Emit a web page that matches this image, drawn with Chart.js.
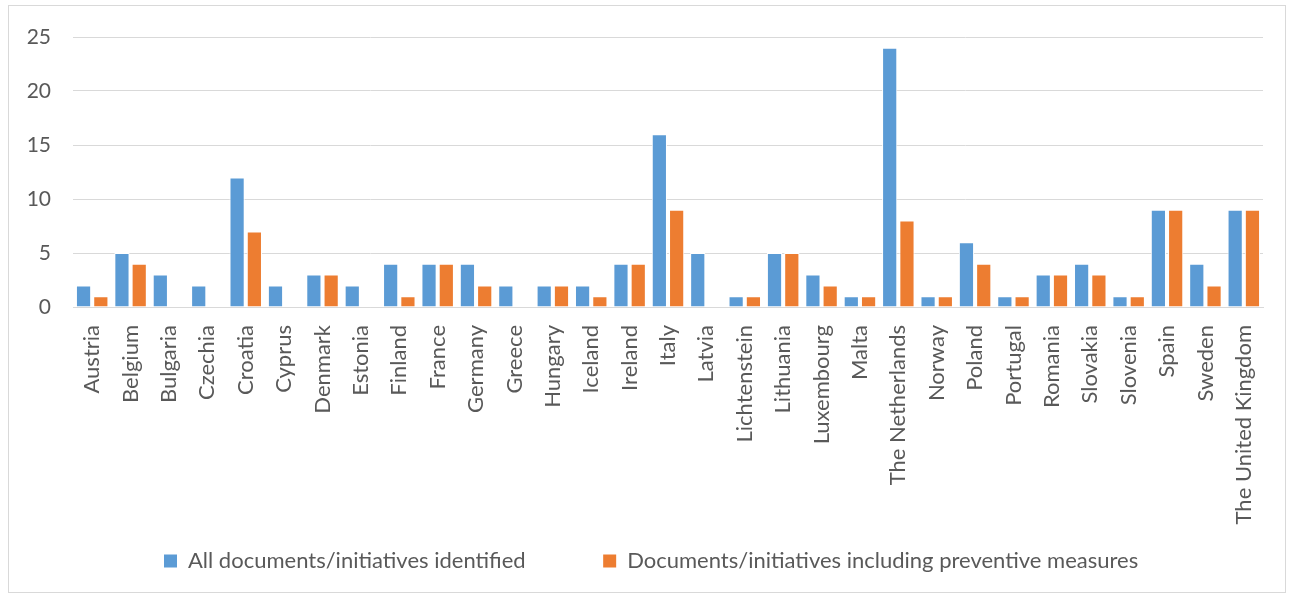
<!DOCTYPE html>
<html>
<head>
<meta charset="utf-8">
<script src="https://cdn.jsdelivr.net/npm/chart.js@4/dist/chart.umd.min.js"></script>
<style>
  body { margin: 0; background: #fff; }
  #frame { position: absolute; left: 8px; top: 5px; width: 1276px; height: 586px; border: 1px solid #d9d9d9; }
  #wrap { position: absolute; left: 0; top: 0; width: 1290px; height: 595px; }
</style>
</head>
<body>
<div id="frame"></div>
<div id="wrap"><canvas id="myChart"></canvas></div>
<script>
// countries along the x axis
var countries = ["Austria", "Belgium", "Bulgaria", "Czechia", "Croatia", "Cyprus", "Denmark", "Estonia",
  "Finland", "France", "Germany", "Greece", "Hungary", "Iceland", "Ireland", "Italy", "Latvia",
  "Lichtenstein", "Lithuania", "Luxembourg", "Malta", "The Netherlands", "Norway", "Poland",
  "Portugal", "Romania", "Slovakia", "Slovenia", "Spain", "Sweden", "The United Kingdom"];

// series values
var allDocs = [2, 5, 3, 2, 12, 2, 3, 2, 4, 4, 4, 2, 2, 2, 4, 16, 5, 1, 5, 3, 1, 24, 1, 6, 1, 3, 4, 1, 9, 4, 9];
var preventive = [1, 4, 0, 0, 7, 0, 3, 0, 1, 4, 2, 0, 2, 1, 4, 9, 0, 1, 5, 2, 1, 8, 1, 4, 1, 3, 3, 1, 9, 2, 9];

var seriesNames = ["All documents/initiatives identified", "Documents/initiatives including preventive measures"];
var yTicks = [0, 5, 10, 15, 20, 25];

var ctx = document.getElementById('myChart');
var chart = new Chart(ctx, {
  type: 'bar',
  data: {
    labels: countries,
    datasets: [{
      label: seriesNames[0],
      backgroundColor: '#5B9BD5',
      borderColor: '#ffffff',
      borderWidth: 1,
      data: allDocs
    }, {
      label: seriesNames[1],
      backgroundColor: '#ED7D31',
      borderColor: '#ffffff',
      borderWidth: 1,
      data: preventive
    }]
  },
  options: {
    responsive: true,
    maintainAspectRatio: false,
    animation: false,
    layout: { padding: { left: 20, right: 27, top: 37, bottom: 13 } },
    datasets: { bar: { categoryPercentage: 0.9, barPercentage: 0.88 } },
    plugins: {
      legend: {
        position: 'bottom',
        fullSize: false,
        labels: {
          font: { family: 'Lato', size: 22 },
          color: '#595959',
          boxWidth: 13,
          boxHeight: 13,
          padding: 10,
          generateLabels: function(chart) {
            var items = Chart.defaults.plugins.legend.labels.generateLabels(chart);
            // wider gap after the first entry, and nudge the row a bit left
            items[0].text = items[0].text + '            ';
            items[1].text = items[1].text + '      ';
            items.forEach(function(it) { it.lineWidth = 0; });
            return items;
          }
        }
      },
      tooltip: { enabled: false }
    },
    scales: {
      x: {
        afterFit: function(axis) { axis.height = 233; },
        grid: { display: false, drawTicks: false },
        border: { color: '#d9d9d9', width: 1 },
        ticks: {
          minRotation: 90,
          maxRotation: 90,
          color: '#595959',
          font: { family: 'Lato', size: 22 },
          padding: 18,
          autoSkip: false
        }
      },
      y: {
        min: yTicks[0],
        max: yTicks[yTicks.length - 1],
        afterBuildTicks: function(axis) {
          axis.ticks = yTicks.map(function(v) { return { value: v }; });
        },
        afterFit: function(axis) { axis.width = 53; },
        grid: { color: '#d9d9d9', lineWidth: 1, drawTicks: false },
        border: { display: false },
        ticks: {
          color: '#595959',
          font: { family: 'Lato', size: 21 },
          padding: 22
        }
      }
    }
  }
});
</script>
</body>
</html>
